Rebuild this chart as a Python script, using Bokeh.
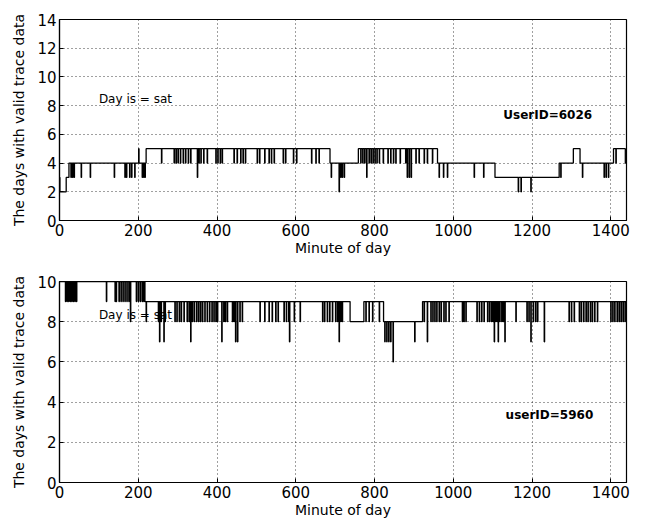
from bokeh.plotting import figure
from bokeh.layouts import column
from bokeh.models import FixedTicker, Label
from bokeh.embed import file_html
from bokeh.resources import INLINE

# ---------------- data ----------------
x_ticks = [0, 200, 400, 600, 800, 1000, 1200, 1400]
y1_ticks = [0, 2, 4, 6, 8, 10, 12, 14]
y2_ticks = [0, 2, 4, 6, 8, 10]
day_minutes = 1440

# UserID=6026 : base step levels (minute where level starts, level)
u1_level_start = [0, 1, 17, 24, 220, 687, 759, 960, 1106, 1269, 1305, 1322, 1407, 1437]
u1_level_value = [3, 2, 3, 4, 5, 4, 5, 4, 3, 4, 5, 4, 5, 4]
# one-minute excursions, grouped by the value reached
u1_spike_to2 = [710, 1165, 1172, 1197]
u1_spike_to3 = [29, 33, 37, 55, 78, 139, 166, 170, 178, 183, 191, 210, 214, 217,
                350, 690, 714, 718, 723, 780, 883, 888, 893,
                964, 975, 985, 1053, 1077, 1273, 1328, 1383, 1388, 1394]
u1_spike_to4 = [259, 291, 296, 301, 307, 314, 320, 327, 333, 354, 359, 366, 375,
                397, 402, 408, 413, 443, 451, 460, 466, 472, 502, 508, 521, 532,
                538, 545, 568, 574, 594, 602, 640, 651, 659,
                765, 770, 775, 786, 791, 796, 801, 806, 812, 822, 834, 841, 848,
                854, 865, 879, 905, 913, 926, 934, 947, 1413]
u1_spike_to5 = [201]

# userID=5960
u2_level_start = [0, 217, 738, 773, 823, 922]
u2_level_value = [10, 9, 8, 9, 8, 9]
u2_spike_to6 = [847]
u2_spike_to7 = [254, 265, 333, 412, 447, 452, 584, 710,
                826, 831, 836, 841, 902, 934, 1104, 1114, 1131, 1197, 1231]
u2_spike_to8 = [180, 220, 251, 258, 268, 293, 298, 304, 309, 316, 324, 329, 337,
                342, 348, 353, 358, 363, 369, 375, 381, 387, 392, 397, 401, 417,
                421, 426, 439, 443, 458, 464, 509, 521, 532, 540, 549, 555, 570,
                576, 582, 596, 611, 668, 673, 680, 686, 693, 701, 706, 714, 718,
                778, 786, 795, 812,
                926, 943, 948, 953, 958, 964, 969, 976, 981, 989, 1023, 1027,
                1032, 1060, 1066, 1072, 1078, 1087, 1092, 1097, 1101, 1108, 1112,
                1118, 1123, 1127, 1159, 1187, 1192, 1203, 1209, 1214, 1294, 1300,
                1307, 1320, 1325, 1331, 1337, 1342, 1348, 1353, 1359, 1366, 1400,
                1405, 1410, 1416, 1421, 1426, 1431, 1436]
u2_spike_to9 = [15, 19, 23, 27, 31, 35, 39, 43, 119, 141, 144, 151, 156, 161,
                166, 171, 176, 195, 200, 205, 210, 214]


def build_series(level_start, level_value, spikes):
    xs = list(range(day_minutes + 1))
    ys = []
    k = 0
    for m in xs:
        while k + 1 < len(level_start) and level_start[k + 1] <= m:
            k += 1
        ys.append(level_value[k])
    for v, mins in spikes.items():
        for m in mins:
            ys[m] = v
    return xs, ys


FONT = "DejaVu Sans"


def make_fig(y_max, y_ticks, top_b, bottom_b):
    p = figure(
        output_backend="svg", toolbar_location=None,
        frame_width=567, frame_height=201,
        min_border_left=59, min_border_right=13,
        min_border_top=top_b, min_border_bottom=bottom_b,
        x_range=(0, day_minutes), y_range=(0, y_max),
        background_fill_color="white", border_fill_color="white",
    )
    p.outline_line_color = "black"
    p.outline_line_width = 1.2
    p.xaxis.ticker = FixedTicker(ticks=x_ticks)
    p.yaxis.ticker = FixedTicker(ticks=y_ticks)
    for ax in (p.xaxis[0], p.yaxis[0]):
        ax.axis_line_color = "black"
        ax.axis_line_width = 1.2
        ax.major_tick_in = 4
        ax.major_tick_out = 0
        ax.minor_tick_line_color = None
        ax.major_label_text_font = FONT
        ax.major_label_text_font_size = "15px"
        ax.major_label_text_color = "black"
        ax.axis_label_text_font = FONT
        ax.axis_label_text_font_size = "14px"
        ax.axis_label_text_font_style = "normal"
        ax.axis_label_text_color = "black"
    p.xaxis.axis_label = "Minute of day"
    p.yaxis.axis_label = "The days with valid trace data"
    p.xaxis.major_label_standoff = 3
    p.xaxis.axis_label_standoff = 1
    p.yaxis.major_label_standoff = 3
    p.yaxis.axis_label_standoff = 7
    for g in (p.xgrid[0], p.ygrid[0]):
        g.grid_line_color = "black"
        g.grid_line_alpha = 0.75
        g.grid_line_dash = "1 3"
        g.grid_line_width = 1
    return p


p1 = make_fig(14, y1_ticks, 19, 40)
x1, y1 = build_series(u1_level_start, u1_level_value,
                      {2: u1_spike_to2, 3: u1_spike_to3, 4: u1_spike_to4, 5: u1_spike_to5})
p1.step(x1, y1, mode="after", line_color="black", line_width=1.3)
p1.add_layout(Label(x=100, y=8, text="Day is = sat", text_font=FONT,
                    text_font_size="12px", text_color="black"))
p1.add_layout(Label(x=1127, y=6.85, text="UserID=6026", text_font=FONT,
                    text_font_size="12px", text_font_style="bold", text_color="black"))

p2 = make_fig(10, y2_ticks, 21, 34)
x2, y2 = build_series(u2_level_start, u2_level_value,
                      {6: u2_spike_to6, 7: u2_spike_to7, 8: u2_spike_to8, 9: u2_spike_to9})
p2.step(x2, y2, mode="after", line_color="black", line_width=1.3)
p2.add_layout(Label(x=100, y=8, text="Day is = sat", text_font=FONT,
                    text_font_size="12px", text_color="black"))
p2.add_layout(Label(x=1133, y=3, text="userID=5960", text_font=FONT,
                    text_font_size="12px", text_font_style="bold", text_color="black"))

layout = column(p1, p2, spacing=0)
open("out.html", "w").write(file_html(layout, INLINE))
